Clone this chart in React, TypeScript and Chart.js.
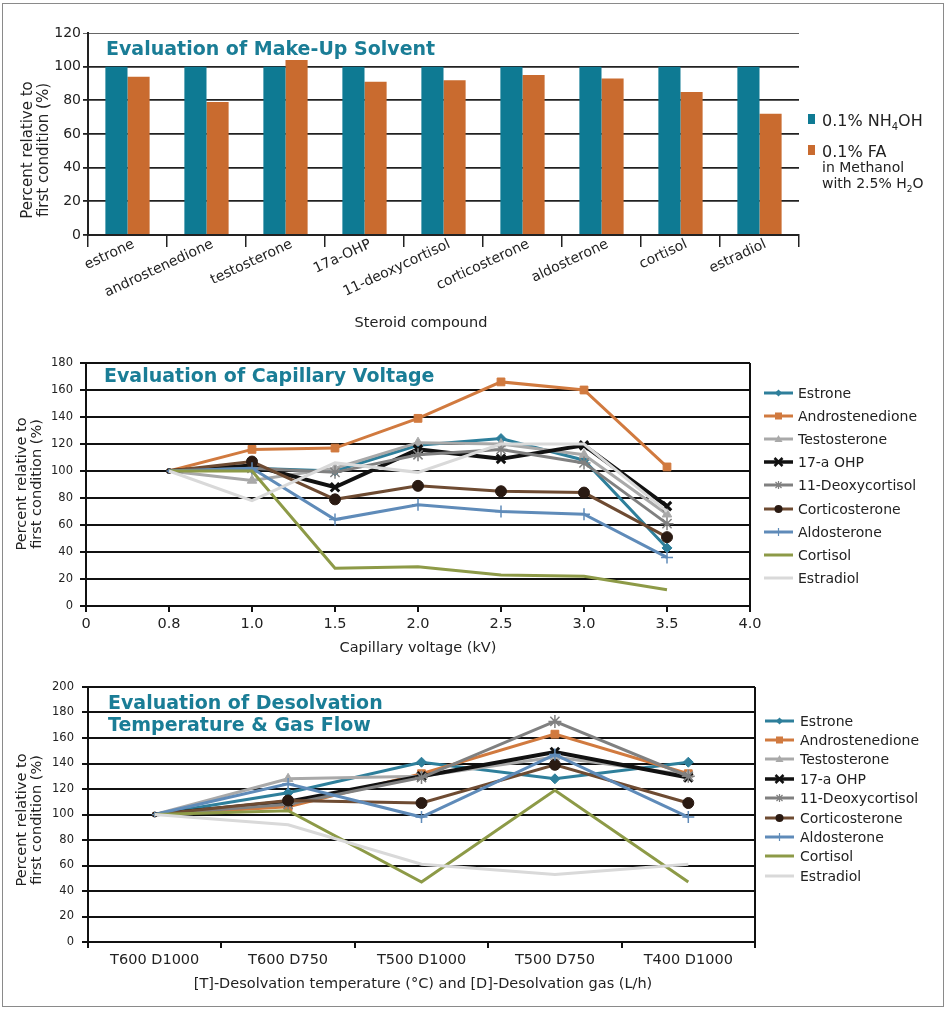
import React, { useEffect, useRef } from 'react';
import { Chart, registerables } from 'chart.js';

Chart.register(...registerables);

const FONT = '"DejaVu Sans", Verdana, sans-serif';
const TXT = '#222222';
const TITLE_COLOR = '#1a7d96';

// ---------- Chart 1: Make-up solvent ----------
const compounds = ['estrone', 'androstenedione', 'testosterone', '17a-OHP', '11-deoxycortisol', 'corticosterone', 'aldosterone', 'cortisol', 'estradiol'];
const nh4ohPercent = [100, 100, 100, 100, 100, 100, 100, 100, 100];
const faPercent = [94, 79, 104, 91, 92, 95, 93, 85, 72];

// ---------- Chart 2: Capillary voltage ----------
const voltageLabels = ['0', '0.8', '1.0', '1.5', '2.0', '2.5', '3.0', '3.5', '4.0'];
const cvEstrone = [null, 100, 102, 100, 119, 124, 108, 43, null];
const cvAndrostenedione = [null, 100, 116, 117, 139, 166, 160, 103, null];
const cvTestosterone = [null, 100, 93, 102, 121, 120, 112, 68, null];
const cvOHP = [null, 100, 104, 88, 116, 109, 119, 74, null];
const cvDeoxycortisol = [null, 100, 102, 99, 112, 116, 106, 61, null];
const cvCorticosterone = [null, 100, 107, 79, 89, 85, 84, 51, null];
const cvAldosterone = [null, 100, 102, 64, 75, 70, 68, 36, null];
const cvCortisol = [null, 100, 100, 28, 29, 23, 22, 12, null];
const cvEstradiol = [null, 100, 78, 106, 99, 120, 120, 70, null];

// ---------- Chart 3: Desolvation ----------
const desolvLabels = ['T600 D1000', 'T600 D750', 'T500 D1000', 'T500 D750', 'T400 D1000'];
const dsEstrone = [100, 117, 141, 128, 141];
const dsAndrostenedione = [100, 106, 132, 163, 132];
const dsTestosterone = [100, 128, 130, 145, 131];
const dsOHP = [100, 110, 130, 149, 129];
const dsDeoxycortisol = [100, 108, 129, 173, 130];
const dsCorticosterone = [100, 111, 109, 139, 109];
const dsAldosterone = [100, 124, 98, 147, 98];
const dsCortisol = [100, 103, 47, 119, 47];
const dsEstradiol = [100, 92, 61, 53, 61];

const steroidNames = ['Estrone', 'Androstenedione', 'Testosterone', '17-a OHP', '11-Deoxycortisol', 'Corticosterone', 'Aldosterone', 'Cortisol', 'Estradiol'];

// styles
const seriesStyles = [
  { color: '#2e7f9b', fill: '#2e7f9b', marker: 'rectRot', r: 5, lw: 3, pbw: 1 },
  { color: '#d17a3f', fill: '#d17a3f', marker: 'rect', r: 5.5, lw: 3, pbw: 1 },
  { color: '#a9a9a9', fill: '#a9a9a9', marker: 'triangle', r: 5.5, lw: 3, pbw: 1 },
  { color: '#111111', fill: '#111111', marker: 'crossRot', r: 6, lw: 4, pbw: 3 },
  { color: '#808080', fill: '#808080', marker: 'star', r: 6.5, lw: 3, pbw: 1.5 },
  { color: '#6e4b32', fill: '#2a1a12', marker: 'circle', r: 5.5, lw: 3, pbw: 1 },
  { color: '#5f8bb9', fill: '#5f8bb9', marker: 'cross', r: 6, lw: 3, pbw: 1.5 },
  { color: '#8d9a47', fill: '#8d9a47', marker: null, r: 0, lw: 3, pbw: 1 },
  { color: '#d9d9d9', fill: '#d9d9d9', marker: null, r: 0, lw: 3, pbw: 1 },
];

const frameRight = {
  id: 'frameRight',
  beforeDatasetsDraw(chart: any) {
    const { ctx, chartArea: a } = chart;
    ctx.save();
    ctx.strokeStyle = '#111';
    ctx.lineWidth = 2;
    ctx.beginPath();
    ctx.moveTo(a.right, a.top);
    ctx.lineTo(a.right, a.bottom);
    ctx.stroke();
    ctx.restore();
  },
};

function lineConfig(labels: string[], series: (number | null)[][], o: any) {
  const n = series.length;
  const datasets = series.map((data, i) => {
    const st = seriesStyles[i];
    return {
      label: steroidNames[i],
      data,
      borderColor: st.color,
      backgroundColor: st.fill,
      borderWidth: st.lw,
      pointStyle: st.marker || 'circle',
      pointRadius: (c: any) => (st.marker ? (c.dataIndex === o.firstIdx ? 2.5 : st.r) : 0),
      pointBackgroundColor: st.fill,
      pointBorderColor: st.fill,
      pointBorderWidth: st.pbw,
      order: n - i,
      tension: 0,
    };
  });
  return {
    type: 'line',
    data: { labels, datasets },
    options: {
      responsive: false,
      animation: false,
      devicePixelRatio: 1,
      layout: { padding: { left: 0, top: o.padTop, right: o.padRight, bottom: 0 } },
      plugins: { legend: { display: false }, tooltip: { enabled: false }, title: { display: false } },
      scales: {
        x: {
          type: 'category',
          offset: o.offset,
          grid: { drawOnChartArea: false, drawTicks: true, tickLength: 6, color: '#111', lineWidth: 2, offset: o.offset },
          border: { color: '#111', width: 2 },
          ticks: { font: { family: FONT, size: 14.5 }, color: TXT, padding: 4, autoSkip: false, maxRotation: 0 },
          afterFit: (s: any) => { s.height = o.xH; },
        },
        y: {
          min: 0,
          max: o.yMax,
          ticks: { stepSize: 20, font: { family: FONT, size: 11.5 }, color: TXT, padding: o.yPad },
          grid: { color: '#111', lineWidth: 2, tickLength: 6 },
          border: { color: '#111', width: 2 },
          afterFit: (s: any) => { s.width = o.yW; },
        },
      },
    },
    plugins: [frameRight],
  };
}

function barConfig() {
  return {
    type: 'bar',
    data: {
      labels: compounds,
      datasets: [
        { label: '0.1% NH4OH', data: nh4ohPercent, backgroundColor: '#0e7a93', categoryPercentage: 0.56, barPercentage: 1 },
        { label: '0.1% FA', data: faPercent, backgroundColor: '#c96b2f', categoryPercentage: 0.56, barPercentage: 1 },
      ],
    },
    options: {
      responsive: false,
      animation: false,
      devicePixelRatio: 1,
      layout: { padding: { left: 0, top: 33, right: 151, bottom: 0 } },
      plugins: { legend: { display: false }, tooltip: { enabled: false } },
      scales: {
        x: {
          grid: { drawOnChartArea: false, drawTicks: true, tickLength: 12, color: '#222', lineWidth: 1.5, offset: true },
          border: { color: '#222', width: 2 },
          ticks: { font: { family: FONT, size: 14 }, color: TXT, minRotation: 25, maxRotation: 25, padding: -11, labelOffset: 6, autoSkip: false },
          afterFit: (s: any) => { s.height = 105; },
        },
        y: {
          min: 0,
          max: 120,
          ticks: { stepSize: 20, font: { family: FONT, size: 14 }, color: TXT, padding: 2 },
          grid: { color: (c: any) => (c.tick && c.tick.value === 120 ? '#666' : '#222'), lineWidth: (c: any) => (c.tick && c.tick.value === 120 ? 1 : 1.8), tickLength: 5 },
          border: { color: '#222', width: 2 },
          afterFit: (s: any) => { s.width = 88; },
        },
      },
    },
  };
}

function ChartCanvas({ top, height, make }: { top: number; height: number; make: () => any }) {
  const ref = useRef<HTMLCanvasElement | null>(null);
  useEffect(() => {
    const chart = new Chart(ref.current as HTMLCanvasElement, make());
    return () => chart.destroy();
  }, []);
  return (
    <canvas ref={ref} width={950} height={height} style={{ position: 'absolute', left: 0, top, width: 950, height }} />
  );
}

function Glyph({ i }: { i: number }) {
  const st = seriesStyles[i];
  const cx = 14.5, cy = 7;
  let m: any = null;
  const s = 3.6;
  if (st.marker === 'rectRot') m = <polygon points={`${cx},${cy - s} ${cx + s},${cy} ${cx},${cy + s} ${cx - s},${cy}`} fill={st.fill} />;
  if (st.marker === 'rect') m = <rect x={cx - 3.5} y={cy - 3.5} width={7} height={7} fill={st.fill} />;
  if (st.marker === 'triangle') m = <polygon points={`${cx},${cy - 4} ${cx + 4},${cy + 3} ${cx - 4},${cy + 3}`} fill={st.fill} />;
  if (st.marker === 'crossRot') m = <g stroke={st.fill} strokeWidth={2.5}><line x1={cx - 4} y1={cy - 4} x2={cx + 4} y2={cy + 4} /><line x1={cx - 4} y1={cy + 4} x2={cx + 4} y2={cy - 4} /></g>;
  if (st.marker === 'star') m = <g stroke={st.fill} strokeWidth={1.2}><line x1={cx - 4} y1={cy} x2={cx + 4} y2={cy} /><line x1={cx} y1={cy - 4} x2={cx} y2={cy + 4} /><line x1={cx - 3} y1={cy - 3} x2={cx + 3} y2={cy + 3} /><line x1={cx - 3} y1={cy + 3} x2={cx + 3} y2={cy - 3} /></g>;
  if (st.marker === 'circle') m = <circle cx={cx} cy={cy} r={4} fill={st.fill} />;
  if (st.marker === 'cross') m = <g stroke={st.fill} strokeWidth={1.2}><line x1={cx - 4} y1={cy} x2={cx + 4} y2={cy} /><line x1={cx} y1={cy - 4} x2={cx} y2={cy + 4} /></g>;
  return (
    <svg width={29} height={14} style={{ display: 'block', flex: 'none' }}>
      <line x1={0} y1={7} x2={29} y2={7} stroke={st.color} strokeWidth={st.lw === 4 ? 3.5 : 3} />
      {m}
    </svg>
  );
}

function LineLegend({ top, step, lineX, textX }: { top: number; step: number; lineX: number; textX: number }) {
  return (
    <>
      {steroidNames.map((name, i) => (
        <div key={name} style={{ position: 'absolute', left: lineX, top: top + i * step - 7, height: 14, display: 'flex', alignItems: 'center' }}>
          <Glyph i={i} />
          <span style={{ marginLeft: textX - lineX - 29, fontSize: 14, lineHeight: '14px', whiteSpace: 'nowrap', color: TXT }}>{name}</span>
        </div>
      ))}
    </>
  );
}

function YTitle({ cx, cy, fs }: { cx: number; cy: number; fs: number }) {
  return (
    <div style={{ position: 'absolute', left: cx - 100, top: cy - 16, width: 200, height: 32, display: 'flex', flexDirection: 'column', alignItems: 'center', justifyContent: 'center', transform: 'rotate(-90deg)', fontSize: fs, lineHeight: `${fs + 1}px`, textAlign: 'center', color: TXT, whiteSpace: 'nowrap' }}>
      <div>Percent relative to</div>
      <div>first condition (%)</div>
    </div>
  );
}

function XTitle({ cx, cy, text }: { cx: number; cy: number; text: string }) {
  return (
    <div style={{ position: 'absolute', left: cx - 300, top: cy - 7, width: 600, textAlign: 'center', fontSize: 14.5, lineHeight: '14px', color: TXT, whiteSpace: 'nowrap' }}>{text}</div>
  );
}

const titleStyle: any = { position: 'absolute', fontSize: 19, fontWeight: 'bold', lineHeight: '22px', color: TITLE_COLOR, whiteSpace: 'nowrap' };

export default function App() {
  return (
    <div style={{ position: 'absolute', left: 0, top: 0, width: 950, height: 1012, background: '#fff', fontFamily: FONT, overflow: 'hidden' }}>
      <div style={{ position: 'absolute', left: 2, top: 3, width: 942, height: 1004, border: '1.5px solid #8a8a8a', boxSizing: 'border-box' }} />

      <ChartCanvas top={0} height={340} make={barConfig} />
      <ChartCanvas top={340} height={330} make={() => lineConfig(voltageLabels, [cvEstrone, cvAndrostenedione, cvTestosterone, cvOHP, cvDeoxycortisol, cvCorticosterone, cvAldosterone, cvCortisol, cvEstradiol], { firstIdx: 1, offset: false, padTop: 23, padRight: 200, xH: 64, yW: 86, yMax: 180, yPad: 7 })} />
      <ChartCanvas top={670} height={342} make={() => lineConfig(desolvLabels, [dsEstrone, dsAndrostenedione, dsTestosterone, dsOHP, dsDeoxycortisol, dsCorticosterone, dsAldosterone, dsCortisol, dsEstradiol], { firstIdx: 0, offset: true, padTop: 17, padRight: 195, xH: 70, yW: 88, yMax: 200, yPad: 8 })} />

      {/* Chart 1 annotations */}
      <div style={{ ...titleStyle, left: 106, top: 37 }}>Evaluation of Make-Up Solvent</div>
      <YTitle cx={35} cy={150} fs={15} />
      <XTitle cx={421} cy={322} text="Steroid compound" />
      <div style={{ position: 'absolute', left: 808, top: 114, width: 7, height: 10, background: '#0e7a93' }} />
      <div style={{ position: 'absolute', left: 822, top: 112.5, fontSize: 16, lineHeight: '16px', color: TXT, whiteSpace: 'nowrap' }}>
        0.1% NH<span style={{ fontSize: 10, position: 'relative', top: 4, lineHeight: 0 }}>4</span>OH
      </div>
      <div style={{ position: 'absolute', left: 808, top: 145, width: 7, height: 10, background: '#c96b2f' }} />
      <div style={{ position: 'absolute', left: 822, top: 143.5, fontSize: 16, lineHeight: '16px', color: TXT, whiteSpace: 'nowrap' }}>0.1% FA</div>
      <div style={{ position: 'absolute', left: 822, top: 160, fontSize: 14, lineHeight: '14px', color: TXT, whiteSpace: 'nowrap' }}>in Methanol</div>
      <div style={{ position: 'absolute', left: 822, top: 176, fontSize: 14, lineHeight: '14px', color: TXT, whiteSpace: 'nowrap' }}>
        with 2.5% H<span style={{ fontSize: 9, position: 'relative', top: 4, lineHeight: 0 }}>2</span>O
      </div>

      {/* Chart 2 annotations */}
      <div style={{ ...titleStyle, left: 104, top: 364 }}>Evaluation of Capillary Voltage</div>
      <YTitle cx={29} cy={484} fs={14.5} />
      <XTitle cx={418} cy={647} text="Capillary voltage (kV)" />
      <LineLegend top={392.5} step={23.2} lineX={764} textX={798} />

      {/* Chart 3 annotations */}
      <div style={{ ...titleStyle, left: 108, top: 691 }}>Evaluation of Desolvation<br />Temperature &amp; Gas Flow</div>
      <YTitle cx={29} cy={820} fs={14.5} />
      <XTitle cx={423} cy={983} text="[T]-Desolvation temperature (°C) and [D]-Desolvation gas (L/h)" />
      <LineLegend top={720.5} step={19.4} lineX={765} textX={800} />
    </div>
  );
}
